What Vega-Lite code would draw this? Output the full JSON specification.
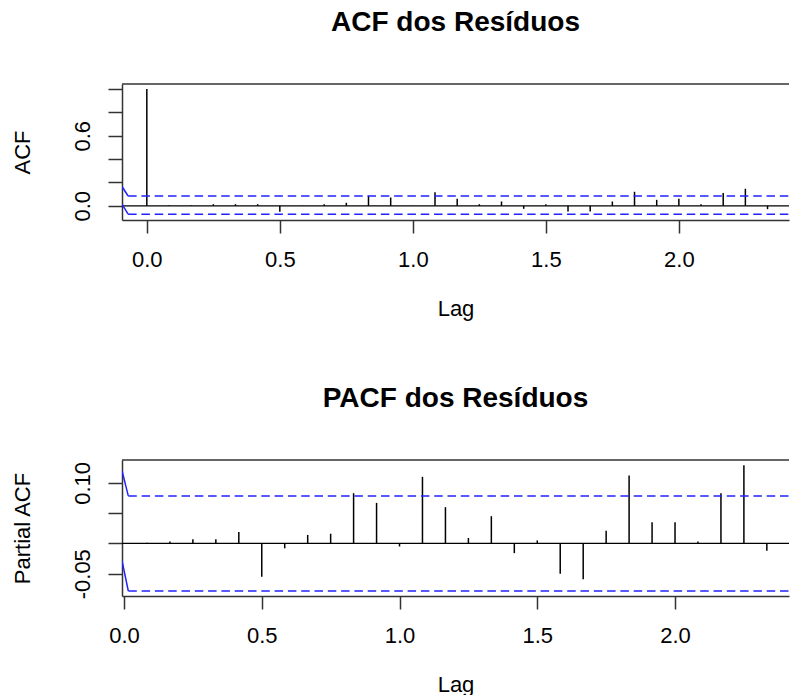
{
  "$schema": "https://vega.github.io/schema/vega-lite/v6.json",
  "background": "white",
  "padding": {"left": 10, "top": 9, "right": 0, "bottom": 0},
  "bounds": "flush",
  "spacing": 240,
  "config": {
    "view": {"stroke": null},
    "font": "Liberation Sans",
    "axis": {
      "grid": false,
      "domainColor": "#333333",
      "domainWidth": 1.5,
      "tickColor": "#333333",
      "tickWidth": 1.5,
      "labelFont": "Liberation Sans",
      "labelFontSize": 22,
      "labelColor": "#000000",
      "titleFont": "Liberation Sans",
      "titleFontSize": 22,
      "titleFontWeight": "normal",
      "titleColor": "#000000",
      "labelOverlap": false,
      "labelFlush": false
    },
    "title": {"font": "Liberation Sans", "fontSize": 28, "fontWeight": "bold", "color": "#000000", "anchor": "middle", "baseline": "alphabetic"}
  },
  "datasets": {
    "acf": [
      {"lag": 0.0, "acf": 1.0},
      {"lag": 0.0833, "acf": 0.004},
      {"lag": 0.1667, "acf": 0.005},
      {"lag": 0.25, "acf": 0.014},
      {"lag": 0.3333, "acf": 0.014},
      {"lag": 0.4167, "acf": 0.014},
      {"lag": 0.5, "acf": -0.05},
      {"lag": 0.5833, "acf": 0.003},
      {"lag": 0.6667, "acf": 0.014},
      {"lag": 0.75, "acf": 0.026},
      {"lag": 0.8333, "acf": 0.086},
      {"lag": 0.9167, "acf": 0.071},
      {"lag": 1.0, "acf": 0.003},
      {"lag": 1.0833, "acf": 0.115},
      {"lag": 1.1667, "acf": 0.06},
      {"lag": 1.25, "acf": 0.014},
      {"lag": 1.3333, "acf": 0.037},
      {"lag": 1.4167, "acf": -0.026},
      {"lag": 1.5, "acf": 0.014},
      {"lag": 1.5833, "acf": -0.049},
      {"lag": 1.6667, "acf": -0.049},
      {"lag": 1.75, "acf": 0.037},
      {"lag": 1.8333, "acf": 0.12},
      {"lag": 1.9167, "acf": 0.051},
      {"lag": 2.0, "acf": 0.06},
      {"lag": 2.0833, "acf": 0.014},
      {"lag": 2.1667, "acf": 0.109},
      {"lag": 2.25, "acf": 0.146},
      {"lag": 2.3333, "acf": -0.029}
    ],
    "pacf": [
      {"lag": 0.0833, "pacf": 0.001},
      {"lag": 0.1667, "pacf": 0.003},
      {"lag": 0.25, "pacf": 0.007},
      {"lag": 0.3333, "pacf": 0.007},
      {"lag": 0.4167, "pacf": 0.019},
      {"lag": 0.5, "pacf": -0.055},
      {"lag": 0.5833, "pacf": -0.008},
      {"lag": 0.6667, "pacf": 0.014},
      {"lag": 0.75, "pacf": 0.016},
      {"lag": 0.8333, "pacf": 0.083},
      {"lag": 0.9167, "pacf": 0.067},
      {"lag": 1.0, "pacf": -0.005},
      {"lag": 1.0833, "pacf": 0.11},
      {"lag": 1.1667, "pacf": 0.06},
      {"lag": 1.25, "pacf": 0.009},
      {"lag": 1.3333, "pacf": 0.045},
      {"lag": 1.4167, "pacf": -0.016},
      {"lag": 1.5, "pacf": 0.005},
      {"lag": 1.5833, "pacf": -0.05},
      {"lag": 1.6667, "pacf": -0.059},
      {"lag": 1.75, "pacf": 0.021},
      {"lag": 1.8333, "pacf": 0.112},
      {"lag": 1.9167, "pacf": 0.035},
      {"lag": 2.0, "pacf": 0.035},
      {"lag": 2.0833, "pacf": 0.003},
      {"lag": 2.1667, "pacf": 0.083},
      {"lag": 2.25, "pacf": 0.129},
      {"lag": 2.3333, "pacf": -0.012}
    ],
    "ciA": [
      {"band": "upper", "lag": -0.0703, "v": 0.084},
      {"band": "upper", "lag": 2.414, "v": 0.084},
      {"band": "lower", "lag": -0.0703, "v": -0.072},
      {"band": "lower", "lag": 2.414, "v": -0.072}
    ],
    "slantA": [
      {"band": "upper", "lag": -0.0933, "v": 0.165},
      {"band": "upper", "lag": -0.0703, "v": 0.084},
      {"band": "lower", "lag": -0.0933, "v": 0.015},
      {"band": "lower", "lag": -0.0703, "v": -0.072}
    ],
    "ciP": [
      {"band": "upper", "lag": 0.0156, "v": 0.0785},
      {"band": "upper", "lag": 2.4137, "v": 0.0785},
      {"band": "lower", "lag": 0.0156, "v": -0.0785},
      {"band": "lower", "lag": 2.4137, "v": -0.0785}
    ],
    "slantP": [
      {"band": "upper", "lag": -0.0073, "v": 0.12},
      {"band": "upper", "lag": 0.0156, "v": 0.0785},
      {"band": "lower", "lag": -0.0073, "v": -0.0285},
      {"band": "lower", "lag": 0.0156, "v": -0.0785}
    ],
    "frameA": [{"top": 1.043, "zero": 0}],
    "frameP": [{"top": 0.1378, "zero": 0}]
  },
  "vconcat": [
    {
      "width": 667,
      "height": 136,
      "title": {"text": "ACF dos Resíduos", "offset": 46},
      "layer": [
        {
          "data": {"name": "acf"},
          "mark": {"type": "rule", "color": "#000000", "strokeWidth": 1.5},
          "encoding": {
            "x": {"field": "lag", "type": "quantitative",
              "scale": {"domain": [-0.0933, 2.414], "nice": false, "zero": false},
              "axis": {"values": [0, 0.5, 1, 1.5, 2], "tickCount": 20, "format": ".1f", "tickSize": 13, "labelPadding": 16, "title": "Lag", "titlePadding": 28}},
            "y": {"field": "acf", "type": "quantitative",
              "scale": {"domain": [-0.1216, 1.043], "nice": false, "zero": false},
              "axis": {"values": [0, 0.2, 0.4, 0.6, 0.8, 1.0], "tickCount": 20, "tickSize": 14, "labelPadding": 19, "labelAngle": 270, "labelAlign": "center", "labelBaseline": "alphabetic", "labelOverlap": false,
                "labelExpr": "abs(datum.value) < 0.001 ? '0.0' : (abs(datum.value - 0.6) < 0.001 ? '0.6' : '')",
                "title": "ACF", "titlePadding": 37}},
            "y2": {"datum": 0}
          }
        },
        {
          "data": {"name": "frameA"},
          "mark": {"type": "rule", "color": "#000000", "strokeWidth": 1.3},
          "encoding": {"y": {"field": "zero", "type": "quantitative"}}
        },
        {
          "data": {"name": "frameA"},
          "mark": {"type": "rule", "color": "#333333", "strokeWidth": 1.5},
          "encoding": {"y": {"field": "top", "type": "quantitative"}}
        },
        {
          "data": {"name": "ciA"},
          "mark": {"type": "line", "color": "#2222ff", "strokeWidth": 1.5, "strokeDash": [8.5, 4.8], "clip": true},
          "encoding": {
            "x": {"field": "lag", "type": "quantitative"},
            "y": {"field": "v", "type": "quantitative"},
            "detail": {"field": "band"}
          }
        },
        {
          "data": {"name": "slantA"},
          "mark": {"type": "line", "color": "#2222ff", "strokeWidth": 1.5, "clip": true},
          "encoding": {
            "x": {"field": "lag", "type": "quantitative"},
            "y": {"field": "v", "type": "quantitative"},
            "detail": {"field": "band"}
          }
        }
      ]
    },
    {
      "width": 667,
      "height": 136,
      "title": {"text": "PACF dos Resíduos", "offset": 46},
      "layer": [
        {
          "data": {"name": "pacf"},
          "mark": {"type": "rule", "color": "#000000", "strokeWidth": 1.5},
          "encoding": {
            "x": {"field": "lag", "type": "quantitative",
              "scale": {"domain": [-0.0073, 2.4137], "nice": false, "zero": false},
              "axis": {"values": [0, 0.5, 1, 1.5, 2], "tickCount": 20, "format": ".1f", "tickSize": 13, "labelPadding": 16, "title": "Lag", "titlePadding": 28}},
            "y": {"field": "pacf", "type": "quantitative",
              "scale": {"domain": [-0.0868, 0.1378], "nice": false, "zero": false},
              "axis": {"values": [-0.05, 0, 0.05, 0.1], "tickCount": 20, "tickSize": 14, "labelPadding": 19, "labelAngle": 270, "labelAlign": "center", "labelBaseline": "alphabetic", "labelOverlap": false,
                "labelExpr": "datum.value < -0.04 ? '-0.05' : (datum.value > 0.09 ? '0.10' : '')",
                "title": "Partial ACF", "titlePadding": 37}},
            "y2": {"datum": 0}
          }
        },
        {
          "data": {"name": "frameP"},
          "mark": {"type": "rule", "color": "#000000", "strokeWidth": 1.3},
          "encoding": {"y": {"field": "zero", "type": "quantitative"}}
        },
        {
          "data": {"name": "frameP"},
          "mark": {"type": "rule", "color": "#333333", "strokeWidth": 1.5},
          "encoding": {"y": {"field": "top", "type": "quantitative"}}
        },
        {
          "data": {"name": "ciP"},
          "mark": {"type": "line", "color": "#2222ff", "strokeWidth": 1.5, "strokeDash": [8.5, 4.8], "clip": true},
          "encoding": {
            "x": {"field": "lag", "type": "quantitative"},
            "y": {"field": "v", "type": "quantitative"},
            "detail": {"field": "band"}
          }
        },
        {
          "data": {"name": "slantP"},
          "mark": {"type": "line", "color": "#2222ff", "strokeWidth": 1.5, "clip": true},
          "encoding": {
            "x": {"field": "lag", "type": "quantitative"},
            "y": {"field": "v", "type": "quantitative"},
            "detail": {"field": "band"}
          }
        }
      ]
    }
  ]
}
